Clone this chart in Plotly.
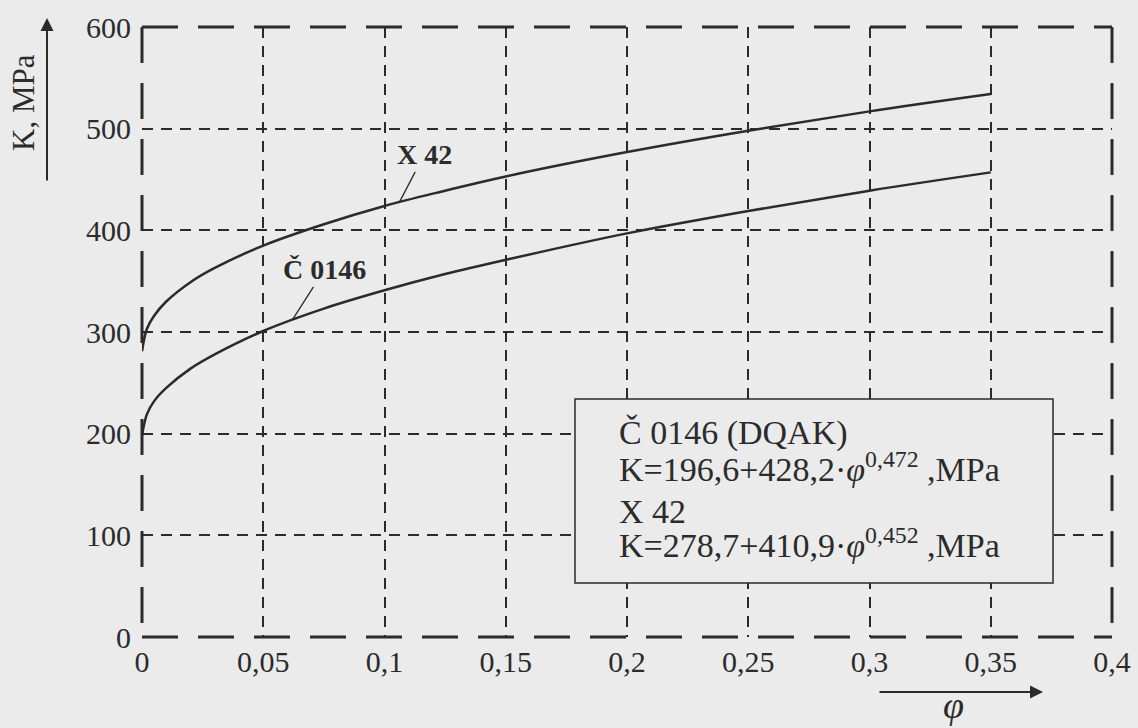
import plotly.graph_objects as go

# ---- data ----
phi = [0, 0.002, 0.005, 0.01, 0.02, 0.03, 0.05, 0.075, 0.1, 0.125, 0.15, 0.2, 0.25, 0.3, 0.35]
k_x42 = [281, 303, 316, 330, 349, 363, 385, 406, 424, 439, 453, 477, 498, 517, 534]
k_c0146 = [198, 219, 232, 245, 264, 278, 301, 323, 341, 357, 371, 397, 419, 439, 457]

x_tickvals = [0, 0.05, 0.1, 0.15, 0.2, 0.25, 0.3, 0.35, 0.4]
x_ticktext = ["0", "0,05", "0,1", "0,15", "0,2", "0,25", "0,3", "0,35", "0,4"]
y_tickvals = [0, 100, 200, 300, 400, 500, 600]
y_ticktext = ["0", "100", "200", "300", "400", "500", "600"]
x_grid = [0.05, 0.1, 0.15, 0.2, 0.25, 0.3, 0.35]
y_grid = [100, 200, 300, 400, 500]

legend_lines = [
    "Č 0146 (DQAK)",
    "K=196,6+428,2·<i>φ</i><sup>0,472</sup> ,MPa",
    "X 42",
    "K=278,7+410,9·<i>φ</i><sup>0,452</sup> ,MPa",
]

# ---- layout geometry (pixels) ----
W, H = 1138, 728
L, R, T, B = 142, 26, 27, 91
PW, PH = W - L - R, H - T - B
BG = "#ebebeb"
INK = "#2b2b2b"
FONT = "Liberation Serif"


def px(xp):
    return (xp - L) / PW


def py(yp):
    return (H - B - yp) / PH


fig = go.Figure()
fig.add_trace(go.Scatter(x=phi, y=k_x42, mode="lines", line=dict(color=INK, width=2.5, shape="spline"),
                         name="X 42", showlegend=False, hoverinfo="skip"))
fig.add_trace(go.Scatter(x=phi, y=k_c0146, mode="lines", line=dict(color=INK, width=2.5, shape="spline"),
                         name="Č 0146", showlegend=False, hoverinfo="skip"))

grid_style = dict(showgrid=True, gridcolor=INK, gridwidth=1.5, griddash="11px,8px", ticks="")

fig.update_xaxes(range=[0, 0.4], tickvals=x_tickvals, ticktext=x_ticktext, showgrid=False,
                 zeroline=False, showline=False, ticks="", ticklabelstandoff=4, automargin=False,
                 tickfont=dict(family=FONT, size=30, color=INK),
                 minor=dict(tickvals=x_grid, **grid_style))
fig.update_yaxes(range=[0, 600], tickvals=y_tickvals, ticktext=y_ticktext, showgrid=False,
                 zeroline=False, showline=False, ticks="", ticklabelstandoff=10, automargin=False,
                 tickfont=dict(family=FONT, size=30, color=INK),
                 minor=dict(tickvals=y_grid, **grid_style))

border = dict(color=INK, width=3, dash="36px,20px")
shapes = [
    dict(type="line", xref="paper", yref="paper", x0=0, x1=1, y0=0, y1=0, line=border),
    dict(type="line", xref="paper", yref="paper", x0=0, x1=1, y0=1, y1=1, line=border),
    dict(type="line", xref="paper", yref="paper", x0=0, x1=0, y0=1, y1=0, line=border),
    dict(type="line", xref="paper", yref="paper", x0=1, x1=1, y0=1, y1=0, line=border),
    dict(type="rect", xref="paper", yref="paper", x0=px(575), x1=px(1053), y0=py(583), y1=py(399),
         fillcolor=BG, line=dict(color=INK, width=1.5)),
]

ann = []
# curve labels with leader lines
ann.append(dict(x=0.106, y=427, xref="x", yref="y", text="<b>X 42</b>", showarrow=True,
                arrowhead=0, arrowwidth=1.3, arrowcolor=INK, ax=25, ay=-48,
                xanchor="center", yanchor="middle",
                font=dict(family=FONT, size=28, color=INK)))
ann.append(dict(x=0.062, y=312, xref="x", yref="y", text="<b>Č 0146</b>", showarrow=True,
                arrowhead=0, arrowwidth=1.3, arrowcolor=INK, ax=32, ay=-50,
                xanchor="center", yanchor="middle",
                font=dict(family=FONT, size=28, color=INK)))
# legend box text
for txt, yc in zip(legend_lines, [433, 467, 511, 543]):
    ann.append(dict(x=px(617), y=py(yc), xref="paper", yref="paper", text=txt, showarrow=False,
                    xanchor="left", yanchor="middle", font=dict(family=FONT, size=34, color=INK)))
# axis titles with arrows
ann.append(dict(x=px(23), y=py(103), xref="paper", yref="paper", text="K, MPa", textangle=-90,
                xanchor="center", yanchor="middle",
                showarrow=False, font=dict(family=FONT, size=31, color=INK)))
ann.append(dict(x=px(47), y=py(18), xref="paper", yref="paper", text="", showarrow=True,
                arrowhead=2, arrowsize=1.3, arrowwidth=2, arrowcolor=INK, ax=0, ay=164))
ann.append(dict(x=px(953), y=py(705), xref="paper", yref="paper", text="<i>φ</i>",
                xanchor="center", yanchor="middle",
                showarrow=False, font=dict(family=FONT, size=38, color=INK)))
ann.append(dict(x=px(1043), y=py(692), xref="paper", yref="paper", text="", showarrow=True,
                arrowhead=2, arrowsize=1.3, arrowwidth=2, arrowcolor=INK, ax=-165, ay=0))

fig.update_layout(width=W, height=H, margin=dict(l=L, r=R, t=T, b=B),
                  paper_bgcolor=BG, plot_bgcolor=BG, shapes=shapes, annotations=ann,
                  showlegend=False)

fig.write_html("out.html", config=dict(displayModeBar=False),
               post_script="document.body.style.margin='0';document.body.style.background='%s';" % BG)
